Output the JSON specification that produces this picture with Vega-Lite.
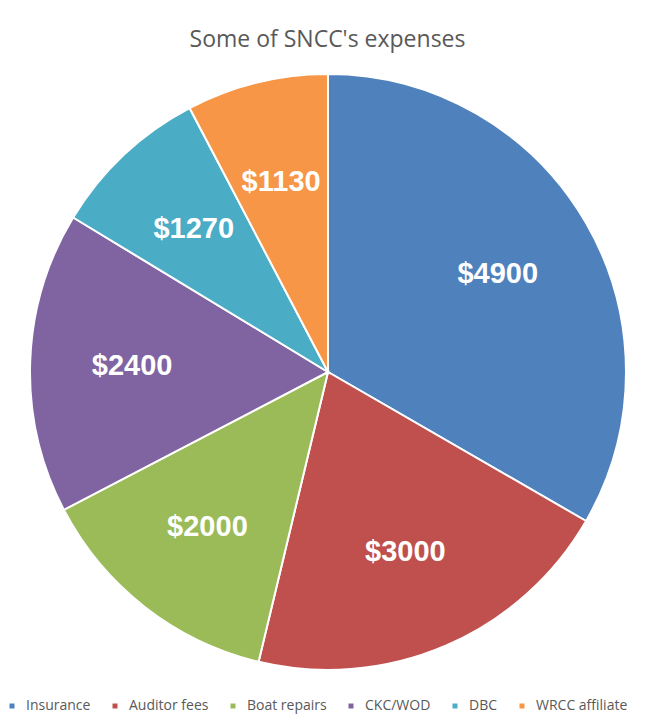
{
  "$schema": "https://vega.github.io/schema/vega-lite/v6.json",
  "width": 655,
  "height": 655,
  "autosize": {"type": "none"},
  "padding": {"top": 60, "left": 0, "right": 0, "bottom": 0},
  "background": "white",
  "title": {
    "text": "Some of SNCC's expenses",
    "font": "Open Sans",
    "fontSize": 23,
    "fontWeight": "normal",
    "color": "#595959",
    "baseline": "alphabetic",
    "offset": -10,
    "anchor": "middle"
  },
  "data": {
    "values": [
      {"idx": 1, "category": "Insurance", "value": 4900},
      {"idx": 2, "category": "Auditor fees", "value": 3000},
      {"idx": 3, "category": "Boat repairs", "value": 2000},
      {"idx": 4, "category": "CKC/WOD", "value": 2400},
      {"idx": 5, "category": "DBC", "value": 1270},
      {"idx": 6, "category": "WRCC affiliate", "value": 1130}
    ]
  },
  "encoding": {
    "theta": {"field": "value", "type": "quantitative", "stack": true},
    "order": {"field": "idx", "type": "quantitative"}
  },
  "layer": [
    {
      "mark": {"type": "arc", "x": 328, "y": 312, "outerRadius": 298, "stroke": "white", "strokeWidth": 2},
      "encoding": {
        "color": {
          "field": "category",
          "type": "nominal",
          "sort": null,
          "scale": {
            "domain": ["Insurance", "Auditor fees", "Boat repairs", "CKC/WOD", "DBC", "WRCC affiliate"],
            "range": ["#4F81BD", "#C0504D", "#9BBB59", "#8064A2", "#4BACC6", "#F79646"]
          },
          "legend": {
            "title": null,
            "orient": "none",
            "direction": "horizontal",
            "legendX": 5,
            "legendY": 639,
            "symbolType": "square",
            "symbolSize": 25,
            "symbolStrokeWidth": 0,
            "labelFont": "Open Sans",
            "labelFontSize": 14,
            "labelColor": "#595959",
            "labelOffset": 7,
            "columnPadding": 17,
            "labelLimit": 300
          }
        }
      }
    },
    {
      "mark": {"type": "text", "x": 328, "y": 312, "radius": 196, "font": "Liberation Sans", "fontWeight": "bold", "fontSize": 29, "color": "white", "align": "center", "baseline": "middle"},
      "encoding": {
        "text": {"field": "value", "type": "quantitative", "format": "$.0f"}
      }
    }
  ]
}
